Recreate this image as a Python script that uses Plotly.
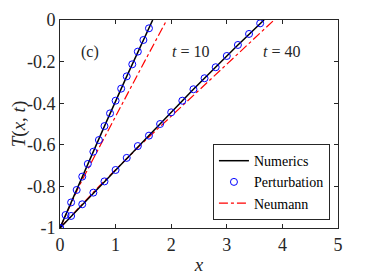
import plotly.graph_objects as go

# ---- data ----
num10_x = [0, 0.4, 0.8, 1.2, 1.667]
num10_y = [-1, -0.753, -0.51, -0.271, 0]
num40_x = [0, 0.8, 1.6, 2.4, 3.2, 3.67]
num40_y = [-1, -0.776, -0.556, -0.333, -0.12, 0]

pert10_x = [0, 0.1, 0.2, 0.3, 0.4, 0.5, 0.6, 0.7, 0.8, 0.9, 1.0, 1.1, 1.2, 1.3, 1.4, 1.5, 1.6]
pert10_y = [-1, -0.9375, -0.877, -0.817, -0.753, -0.692, -0.633, -0.577, -0.51, -0.449,
            -0.388, -0.33, -0.271, -0.213, -0.152, -0.096, -0.04]
pert40_x = [0, 0.2, 0.4, 0.6, 0.8, 1.0, 1.2, 1.4, 1.6, 1.8, 2.0, 2.2, 2.4, 2.6, 2.8, 3.0, 3.2, 3.4, 3.6]
pert40_y = [-1, -0.942, -0.886, -0.83, -0.776, -0.721, -0.663, -0.606, -0.556, -0.5,
            -0.444, -0.388, -0.333, -0.28, -0.227, -0.173, -0.12, -0.067, -0.016]

neu10_x = [0, 0.34, 0.73, 1.12, 1.52, 1.92]
neu10_y = [-1, -0.8, -0.6, -0.4, -0.2, 0]
neu40_x = [0, 0.7, 1.45, 2.25, 3.05, 3.85]
neu40_y = [-1, -0.8, -0.6, -0.4, -0.2, 0]

x_ticks = [0, 1, 2, 3, 4, 5]
y_ticks = [-1, -0.8, -0.6, -0.4, -0.2, 0]
y_ticktext = ["-1", "-0.8", "-0.6", "-0.4", "-0.2", "0"]

FONT = "Liberation Serif"

fig = go.Figure()

# Neumann (drawn first, underneath)
for i, (xs, ys) in enumerate([(neu10_x, neu10_y), (neu40_x, neu40_y)]):
    fig.add_trace(go.Scatter(x=xs, y=ys, mode="lines", name="Neumann",
                             line=dict(color="#ff0000", width=1.2, dash="dashdot"),
                             showlegend=(i == 0), legendrank=3))
# Numerics
for i, (xs, ys) in enumerate([(num10_x, num10_y), (num40_x, num40_y)]):
    fig.add_trace(go.Scatter(x=xs, y=ys, mode="lines", name="Numerics",
                             line=dict(color="black", width=1.5),
                             showlegend=(i == 0), legendrank=1))
# Perturbation
for i, (xs, ys) in enumerate([(pert10_x, pert10_y), (pert40_x, pert40_y)]):
    fig.add_trace(go.Scatter(x=xs, y=ys, mode="markers", name="Perturbation",
                             marker=dict(symbol="circle-open", color="#0000ff", size=7,
                                         line=dict(width=1, color="#0000ff")),
                             showlegend=(i == 0), legendrank=2))

axis_common = dict(showgrid=False, zeroline=False, showline=True, linecolor="#262626",
                   linewidth=1, mirror="ticks", ticks="inside", ticklen=4,
                   tickcolor="#262626", automargin=False,
                   tickfont=dict(family=FONT, size=18, color="#262626"))

fig.update_xaxes(range=[0, 5], tickvals=x_ticks, ticktext=[str(v) for v in x_ticks],
                 title=dict(text="<i>x</i>", font=dict(family=FONT, size=19, color="#262626"),
                            standoff=4),
                 **axis_common)
fig.update_yaxes(range=[-1, 0], tickvals=y_ticks, ticktext=y_ticktext,
                 title=dict(text="<i>T</i>(<i>x</i>, <i>t</i>)",
                            font=dict(family=FONT, size=19, color="#262626"), standoff=2),
                 **axis_common)

annots = [
    dict(x=0.068, y=0.9, text="(c)"),
    dict(x=0.471, y=0.9, text="<i>t</i> = 10"),
    dict(x=0.87, y=0.9, text="<i>t</i> = 40"),
]
for a in annots:
    fig.add_annotation(x=a["x"], y=a["y"], xref="paper", yref="paper", text=a["text"],
                       showarrow=False, font=dict(family=FONT, size=16, color="#262626"))

# the page body adds an 8px margin, so the figure is sized 8px smaller
fig.update_layout(
    width=366, height=272,
    margin=dict(l=52, r=36, t=12, b=52),
    plot_bgcolor="white", paper_bgcolor="white",
    showlegend=True,
    legend=dict(x=0.971, y=0.038, xanchor="right", yanchor="bottom",
                bgcolor="white", bordercolor="#262626", borderwidth=1,
                font=dict(family=FONT, size=14, color="black"),
                tracegroupgap=0, itemwidth=30),
)

fig.write_html("out.html")
